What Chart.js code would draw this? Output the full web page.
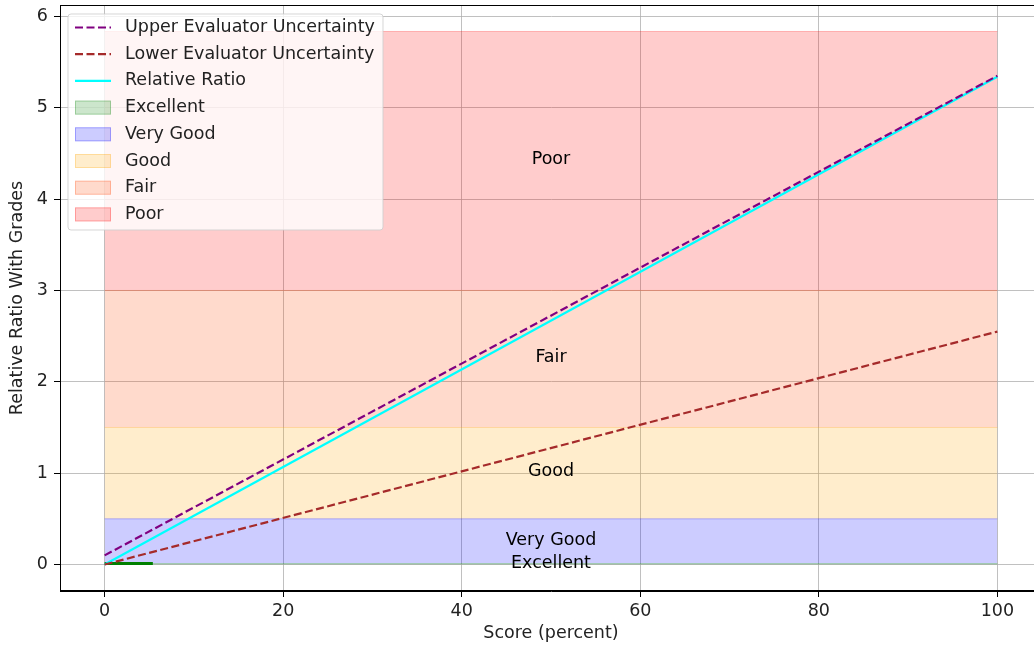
<!DOCTYPE html>
<html>
<head>
<meta charset="utf-8">
<script src="https://cdn.jsdelivr.net/npm/chart.js@4/dist/chart.umd.min.js"></script>
<style>
  html, body { margin: 0; padding: 0; background: #fff; overflow: hidden; }
  #wrap { width: 1034px; height: 647px; overflow: hidden; }
</style>
</head>
<body>
<div id="wrap"><canvas id="myChart" width="1042" height="647"></canvas></div>
<script>
'use strict'

// score axis points for the lines
const scores = [0, 100];
const upperRatio = [0.1, 5.35];
const lowerRatio = [0.0, 2.55];
const relRatio = [0.0, 5.34];

// short green line near zero
const greenX = [0, 5.4];
const greenY = [0.012, 0.012];

// grade bands
const grades = ['Excellent', 'Very Good', 'Good', 'Fair', 'Poor'];
const gradeLow = [0, 0.01, 0.5, 1.5, 3.0];
const gradeHigh = [0.01, 0.5, 1.5, 3.0, 5.835];
const gradeColors = ['0,128,0', '0,0,255', '255,165,0', '255,69,0', '255,0,0'];

// band labels
const labelText = ['Poor', 'Fair', 'Good', 'Very Good', 'Excellent'];
const labelY = [4.43, 2.27, 1.02, 0.26, 0.01];
const labelX = 50;

const xTicks = [0, 20, 40, 60, 80, 100];
const yTicks = [0, 1, 2, 3, 4, 5, 6];

const FONT = '"DejaVu Sans", sans-serif';
const FSIZE = 17.5;

function pts(xs, ys) {
  return xs.map((x, i) => ({ x: x, y: ys[i] }));
}

let datasets = [
  { label: 'Upper Evaluator Uncertainty', data: pts(scores, upperRatio), borderColor: 'purple',
    borderWidth: 2.2, borderDash: [8, 3.5], pointRadius: 0, fill: false },
  { label: 'Lower Evaluator Uncertainty', data: pts(scores, lowerRatio), borderColor: 'brown',
    borderWidth: 2.2, borderDash: [8, 3.5], pointRadius: 0, fill: false },
  { label: 'Relative Ratio', data: pts(scores, relRatio), borderColor: 'cyan',
    borderWidth: 2.2, pointRadius: 0, fill: false },
  { label: '_green', data: pts(greenX, greenY), borderColor: 'green',
    borderWidth: 3, pointRadius: 0, fill: false }
];

for (let i = 0; i < grades.length; i++) {
  datasets.push({
    label: grades[i],
    data: pts([0, 100], [gradeHigh[i], gradeHigh[i]]),
    borderColor: 'rgba(' + gradeColors[i] + ',0.25)',
    backgroundColor: 'rgba(' + gradeColors[i] + ',0.2)',
    borderWidth: 1,
    pointRadius: 0,
    fill: { value: gradeLow[i] }
  });
}

// frame + band text + legend drawn like matplotlib
const extras = {
  id: 'extras',
  afterDatasetsDraw(chart) {
    const c = chart.ctx;
    const xs = chart.scales.x, ys = chart.scales.y;
    c.save();
    c.fillStyle = '#000';
    c.font = FSIZE + 'px ' + FONT;
    c.textAlign = 'center';
    c.textBaseline = 'middle';
    for (let i = 0; i < labelText.length; i++) {
      c.fillText(labelText[i], xs.getPixelForValue(labelX), ys.getPixelForValue(labelY[i]));
    }
    c.restore();
  },
  afterDraw(chart) {
    const c = chart.ctx;
    const a = chart.chartArea;
    c.save();
    c.strokeStyle = '#000';
    c.lineWidth = 1;
    c.strokeRect(a.left + 0.5, a.top + 0.5, a.right - a.left - 1, a.bottom - a.top - 1);

    // legend box
    const bx = 68, by = 14, bw = 315, bh = 216;
    c.beginPath();
    c.roundRect(bx, by, bw, bh, 3);
    c.fillStyle = 'rgba(255,255,255,0.8)';
    c.fill();
    c.strokeStyle = 'rgba(204,204,204,0.8)';
    c.lineWidth = 1;
    c.stroke();

    const items = chart.data.datasets.filter(d => d.label[0] !== '_');
    c.font = FSIZE + 'px ' + FONT;
    c.textBaseline = 'middle';
    c.textAlign = 'left';
    items.forEach((d, i) => {
      const yy = by + 13.5 + i * 26.7;
      if (d.fill === false) {
        c.beginPath();
        c.setLineDash(d.borderDash || []);
        c.strokeStyle = d.borderColor;
        c.lineWidth = d.borderWidth;
        c.moveTo(bx + 7, yy);
        c.lineTo(bx + 43, yy);
        c.stroke();
        c.setLineDash([]);
      } else {
        c.fillStyle = d.backgroundColor;
        c.fillRect(bx + 7, yy - 7, 36, 14);
        c.strokeStyle = d.borderColor;
        c.lineWidth = 1;
        c.strokeRect(bx + 7.5, yy - 6.5, 35, 13);
      }
      c.fillStyle = '#222';
      c.fillText(d.label, bx + 57, yy);
    });
    c.restore();
  }
};

let ctx = document.getElementById('myChart').getContext('2d');

function noPad(s) {
  s.paddingTop = 0; s.paddingBottom = 0; s.paddingLeft = 0; s.paddingRight = 0;
}

new Chart(ctx, {
  type: 'line',
  data: { datasets: datasets },
  options: {
    responsive: false,
    devicePixelRatio: 1,
    animation: false,
    layout: { padding: { top: 5, left: 0, right: 0, bottom: 0 } },
    plugins: { legend: { display: false }, tooltip: { enabled: false } },
    scales: {
      x: {
        type: 'linear',
        min: -5,
        max: 105,
        afterBuildTicks: s => { s.ticks = xTicks.map(v => ({ value: v })); },
        afterFit: s => { s.height = 56; noPad(s); },
        grid: { color: '#b0b0b0', lineWidth: 0.8, tickColor: '#000', tickLength: 6, tickWidth: 1 },
        border: { color: '#000', width: 1 },
        ticks: { color: '#222', font: { family: FONT, size: FSIZE }, padding: 4, maxRotation: 0 },
        title: { display: true, text: 'Score (percent)', color: '#222',
          font: { family: FONT, size: FSIZE }, padding: { top: 4, bottom: 3 } }
      },
      y: {
        type: 'linear',
        min: -0.29,
        max: 6.125,
        afterBuildTicks: s => { s.ticks = yTicks.map(v => ({ value: v })); },
        afterFit: s => { s.width = 60; noPad(s); },
        grid: { color: '#b0b0b0', lineWidth: 0.8, tickColor: '#000', tickLength: 6, tickWidth: 1 },
        border: { color: '#000', width: 1 },
        ticks: { color: '#222', font: { family: FONT, size: FSIZE }, padding: 6 },
        title: { display: true, text: 'Relative Ratio With Grades', color: '#222',
          font: { family: FONT, size: FSIZE }, padding: { top: 7, bottom: 4 } }
      }
    }
  },
  plugins: [extras]
});
</script>
</body>
</html>
